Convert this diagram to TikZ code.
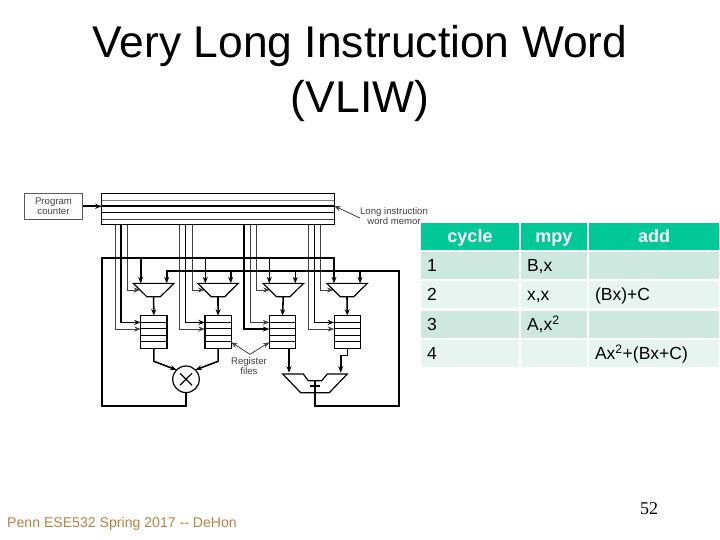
\documentclass[tikz,border=0pt]{standalone}
\usepackage{fontspec}
\setmainfont{Liberation Sans}
\newfontfamily\pagefont{Liberation Serif}
\usetikzlibrary{shapes,arrows,arrows.meta,positioning,calc}
\definecolor{tblhead}{HTML}{00C896}
\definecolor{tblrowa}{HTML}{CDE8DE}
\definecolor{tblrowb}{HTML}{E8F4EF}
\definecolor{labelgray}{HTML}{404040}
\definecolor{footbrown}{HTML}{BC7F3E}

\begin{document}
\begin{tikzpicture}[
    x=1pt, y=-1pt,
    >={Stealth[length=6.5pt,width=5pt]},
    wire/.style={draw=black!75, line width=0.8pt},
    bus/.style={draw=black, line width=1.6pt},
    mux/.style={rectangle, minimum width=40.6pt, minimum height=13.3pt, inner sep=0pt, outer sep=0pt,
        append after command={\pgfextra{\draw[line width=1.2pt] (\tikzlastnode.north west) -- (\tikzlastnode.north east) -- ([xshift=-13.5pt]\tikzlastnode.south east) -- ([xshift=13.5pt]\tikzlastnode.south west) -- cycle;}}},
    regfile/.style={draw, line width=1.1pt, rectangle, minimum width=26.3pt, minimum height=32.6pt, inner sep=0pt, outer sep=0pt,
        path picture={\foreach \f in {0.2,0.4,0.6,0.8} {\draw[line width=0.9pt] ($(path picture bounding box.north west)!\f!(path picture bounding box.south west)$) -- ($(path picture bounding box.north east)!\f!(path picture bounding box.south east)$);}}},
    small/.style={font=\fontsize{9.6}{10}\selectfont, text=labelgray, inner sep=0pt, align=center},
    cell/.style={font=\fontsize{17.5}{20}\selectfont, minimum height=27pt, text height=13pt, text depth=1pt, inner ysep=0pt, inner xsep=6pt, outer sep=0pt, align=left},
    head/.style={cell, fill=tblhead, text=white, align=center, font=\fontsize{18}{20}\selectfont\bfseries},
    colone/.style={text width=86pt},
    coltwo/.style={text width=53.7pt},
    colthree/.style={text width=118pt},
    rowa/.style={cell, fill=tblrowa},
    rowb/.style={cell, fill=tblrowb}
]
    \useasboundingbox (0,0) rectangle (720,540);

    \node[font=\fontsize{44.4}{55}\selectfont, align=center] (title) at (360,74) {Very Long Instruction Word\\(VLIW)};
    \node[font=\fontsize{14.1}{16}\selectfont, text=footbrown, anchor=base west, inner sep=0pt] (footer) at (7,527) {Penn ESE532 Spring 2017 -{}- DeHon};
    \node[font=\fontsize{18}{20}\selectfont\pagefont, inner sep=0pt] (pagenum) at (649,509) {52};

    % program counter and instruction memory
    \node[draw=black!65, line width=0.8pt, rectangle, minimum width=58.4pt, minimum height=26pt, inner sep=0pt, outer sep=0pt, align=center, font=\fontsize{9.6}{10}\selectfont, text=labelgray] (pc) at (53.5,206.3) {Program\\counter};
    \node[draw, line width=1.1pt, rectangle, minimum width=232.6pt, minimum height=31.5pt, inner sep=0pt, outer sep=0pt] (mem) at (218,209.2) {};
    \draw[wire, draw=black!50] (102,200) -- (334,200);
    \draw[line width=1.1pt] (102,206) -- (334,206);
    \draw[line width=1.1pt] (102,212.7) -- (334,212.7);
    \draw[wire] (102,219.3) -- (334,219.3);
    \draw[bus, ->] (pc) -- (mem.west |- pc);
    \node[small, anchor=north] (memlabel) at (394,207) {Long instruction\\word memor};
    \draw[wire, ->] (memlabel.west |- 0,218) -- (mem.east |- 0,206);

    % multiplexers
    \node[mux] (mux1) at (153.6,290) {};
    \node[mux] (mux2) at (218,290) {};
    \node[mux] (mux3) at (283.3,290) {};
    \node[mux] (mux4) at (347,290) {};

    % register files
    \node[regfile] (rf1) at (153.8,332) {};
    \node[regfile] (rf2) at (218.1,332) {};
    \node[regfile] (rf3) at (282.5,332) {};
    \node[regfile] (rf4) at (347.3,332) {};

    \draw[bus, ->] (mux1.south) -- (rf1.north);
    \draw[bus, ->] (mux2.south) -- (rf2.north);
    \draw[bus, ->] (mux3.south) -- (rf3.north);
    \draw[bus, ->] (mux4.south) -- (rf4.north);

    % instruction lines
    \draw[wire, ->] (mem.south -| 115,0) |- ([yshift=-13.3pt]rf1.north west);
    \draw[line width=1.1pt, ->] (mem.south -| 121,0) |- ([yshift=-6.7pt]rf1.north west);
    \draw[wire, ->] (mem.south -| 127.7,0) |- ([xshift=6.7pt]mux1.west);
    \draw[wire, ->] (mem.south -| 179.6,0) |- ([yshift=-13.3pt]rf2.north west);
    \draw[line width=1.1pt, ->] (mem.south -| 185.8,0) |- ([yshift=-6.7pt]rf2.north west);
    \draw[wire, ->] (mem.south -| 192,0) |- ([xshift=6.7pt]mux2.west);
    \draw[line width=1.1pt, ->] (mem.south -| 244,0) |- ([yshift=-13.3pt]rf3.north west);
    \draw[wire, ->] (mem.south -| 250.3,0) |- ([yshift=-6.7pt]rf3.north west);
    \draw[wire, ->] (mem.south -| 256.7,0) |- ([xshift=6.7pt]mux3.west);
    \draw[wire, ->] (mem.south -| 308.3,0) |- ([yshift=-13.3pt]rf4.north west);
    \draw[line width=1.1pt, ->] (mem.south -| 314.5,0) |- ([yshift=-6.7pt]rf4.north west);
    \draw[wire, ->] (mem.south -| 320.8,0) |- ([xshift=6.7pt]mux4.west);

    % functional units
    \node[draw, line width=1.2pt, circle, minimum size=26.6pt, inner sep=0pt, outer sep=0pt] (mul) at (186,379.3) {};
    \draw[line width=1.2pt] ([shift={(-6,-6)}]mul.center) -- ([shift={(6,6)}]mul.center);
    \draw[line width=1.2pt] ([shift={(-6,6)}]mul.center) -- ([shift={(6,-6)}]mul.center);
    \coordinate (addnotch) at (315,380.7);
    \coordinate (addplus) at (315,386);
    \draw[line width=1.2pt] (282.7,374) -- (303.3,374) -- (308.3,380.7) -- (addnotch) -- (321.7,380.7) -- (327.3,374) -- (347.3,374) -- (329.3,392.7) -- (300.7,392.7) -- cycle;
    \draw[line width=1.2pt] ([xshift=-5pt]addplus) -- ([xshift=5pt]addplus);

    \draw[bus, ->] (rf1.south) -- ++(0,13) -- (mul.north west);
    \draw[bus, ->] (rf2.south) -- ++(0,13) -- (mul.north east);
    \draw[bus, ->] ([xshift=6.5pt]rf3.south) -- (289,372.7);
    \draw[bus, ->] (rf4.south) -- ++(0,7) -- ++(-6.6,0) -- (340.7,372.7);

    % feedback buses
    \coordinate (cornertl) at (101.7,258);
    \coordinate (cornerbl) at (101.7,406);
    \coordinate (cornertr) at (399,270.7);
    \coordinate (cornerbr) at (399,406);
    \coordinate (mux1a) at ([xshift=-12.9pt]mux1.north);
    \coordinate (mux1b) at ([xshift=13.1pt]mux1.north);
    \coordinate (mux2a) at ([xshift=-12.7pt]mux2.north);
    \coordinate (mux2b) at ([xshift=12.7pt]mux2.north);
    \coordinate (mux3a) at ([xshift=-14pt]mux3.north);
    \coordinate (mux3b) at ([xshift=12pt]mux3.north);
    \coordinate (mux4a) at ([xshift=-13pt]mux4.north);
    \coordinate (mux4b) at ([xshift=13pt]mux4.north);

    \draw[bus, ->] (mul.south) |- (cornerbl) -- (cornertl) -| (mux4a);
    \draw[bus, ->] (addnotch) |- (cornerbr) -- (cornertr) -| (mux1b);
    \draw[bus, ->] (mux1a |- cornertl) -- (mux1a);
    \draw[bus, ->] (mux2a |- cornertl) -- (mux2a);
    \draw[bus, ->] (mux3a |- cornertl) -- (mux3a);
    \draw[bus, ->] (mux2b |- cornertr) -- (mux2b);
    \draw[bus, ->] (mux3b |- cornertr) -- (mux3b);
    \draw[bus, ->] (mux4b |- cornertr) -- (mux4b);

    \node[small] (rflabel) at (249,366) {Register\\files};
    \coordinate (rftip) at (250,354.3);
    \draw[wire, ->] (rftip) -- (rf2.east |- 0,342.3);
    \draw[wire, ->] (rftip) -- (rf3.west |- 0,342.3);

    % table
    \node[head, colone] (cyc) at (470,236.2) {cycle};
    \node[head, coltwo] (mpy) at (553.9,236.2) {mpy};
    \node[head, colthree] (add) at (654,236.2) {add};

    \node[rowa, colone] (c1) at (470,265.7) {1};
    \node[rowa, coltwo] (m1) at (553.9,265.7) {B,x};
    \node[rowa, colthree] (a1) at (654,265.7) {};
    \node[rowb, colone] (c2) at (470,294.2) {2};
    \node[rowb, coltwo] (m2) at (553.9,294.2) {x,x};
    \node[rowb, colthree] (a2) at (654,294.2) {(Bx)+C};
    \node[rowa, colone] (c3) at (470,324.3) {3};
    \node[rowa, coltwo] (m3) at (553.9,324.3) {A,x\textsuperscript{2}};
    \node[rowa, colthree] (a3) at (654,324.3) {};
    \node[rowb, colone] (c4) at (470,353.7) {4};
    \node[rowb, coltwo] (m4) at (553.9,353.7) {};
    \node[rowb, colthree] (a4) at (654,353.7) {Ax\textsuperscript{2}+(Bx+C)};
\end{tikzpicture}
\end{document}
